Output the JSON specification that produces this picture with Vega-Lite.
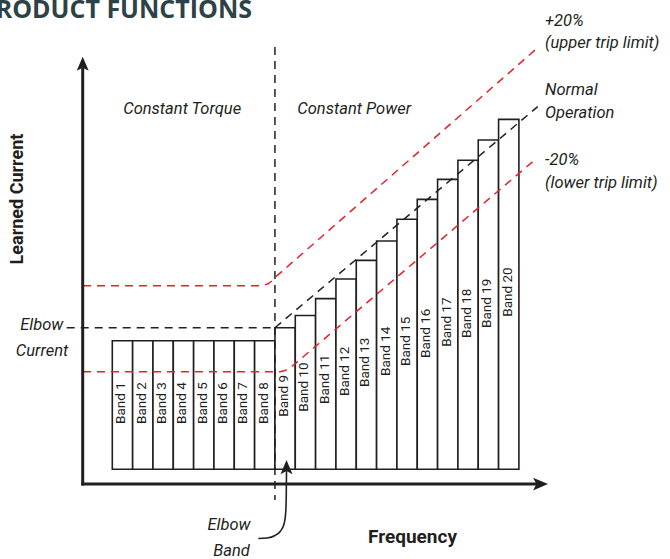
{
  "$schema": "https://vega.github.io/schema/vega-lite/v6.json",
  "width": 670,
  "height": 559,
  "padding": 0,
  "autosize": {"type": "none"},
  "background": "white",
  "config": {"view": {"stroke": null}},
  "datasets": {
    "bands": [
      {"band": "Band 1", "start": 0, "end": 1, "low": 9.4, "current": 91.7, "labelAt": 38.4},
      {"band": "Band 2", "start": 1, "end": 2, "low": 9.4, "current": 91.7, "labelAt": 38.4},
      {"band": "Band 3", "start": 2, "end": 3, "low": 9.4, "current": 91.7, "labelAt": 38.4},
      {"band": "Band 4", "start": 3, "end": 4, "low": 9.4, "current": 91.7, "labelAt": 38.4},
      {"band": "Band 5", "start": 4, "end": 5, "low": 9.4, "current": 91.7, "labelAt": 38.4},
      {"band": "Band 6", "start": 5, "end": 6, "low": 9.4, "current": 91.7, "labelAt": 38.4},
      {"band": "Band 7", "start": 6, "end": 7, "low": 9.4, "current": 91.7, "labelAt": 38.4},
      {"band": "Band 8", "start": 7, "end": 8, "low": 9.4, "current": 91.7, "labelAt": 38.4},
      {"band": "Band 9", "start": 8, "end": 9, "low": 9.4, "current": 100.0, "labelAt": 43.1},
      {"band": "Band 10", "start": 9, "end": 10, "low": 9.4, "current": 107.8, "labelAt": 46.3},
      {"band": "Band 11", "start": 10, "end": 11, "low": 9.4, "current": 118.6, "labelAt": 51.2},
      {"band": "Band 12", "start": 11, "end": 12, "low": 9.4, "current": 131.2, "labelAt": 56.3},
      {"band": "Band 13", "start": 12, "end": 13, "low": 9.4, "current": 143.1, "labelAt": 62.1},
      {"band": "Band 14", "start": 13, "end": 14, "low": 9.4, "current": 155.5, "labelAt": 69.1},
      {"band": "Band 15", "start": 14, "end": 15, "low": 9.4, "current": 169.4, "labelAt": 75.5},
      {"band": "Band 16", "start": 15, "end": 16, "low": 9.4, "current": 182.1, "labelAt": 80.6},
      {"band": "Band 17", "start": 16, "end": 17, "low": 9.4, "current": 194.9, "labelAt": 87.8},
      {"band": "Band 18", "start": 17, "end": 18, "low": 9.4, "current": 207.1, "labelAt": 93.4},
      {"band": "Band 19", "start": 18, "end": 19, "low": 9.4, "current": 220.1, "labelAt": 99.8},
      {"band": "Band 20", "start": 19, "end": 20, "low": 9.4, "current": 233.3, "labelAt": 107.0}
    ],
    "curves": [
      {"series": "upper", "i": 0, "f": -1.441, "c": 126.87},
      {"series": "upper", "i": 1, "f": 7.167, "c": 126.87},
      {"series": "upper", "i": 2, "f": 7.462, "c": 127.19},
      {"series": "upper", "i": 3, "f": 7.659, "c": 128.09},
      {"series": "upper", "i": 4, "f": 7.831, "c": 129.69},
      {"series": "upper", "i": 5, "f": 8.003, "c": 132.12},
      {"series": "upper", "i": 6, "f": 20.925, "c": 279.14},
      {"series": "lower", "i": 0, "f": -1.441, "c": 71.85},
      {"series": "lower", "i": 1, "f": 8.249, "c": 71.85},
      {"series": "lower", "i": 2, "f": 8.495, "c": 72.62},
      {"series": "lower", "i": 3, "f": 8.692, "c": 73.90},
      {"series": "lower", "i": 4, "f": 8.888, "c": 75.82},
      {"series": "lower", "i": 5, "f": 20.890, "c": 208.57},
      {"series": "normal", "i": 0, "f": 8.0, "c": 100.0},
      {"series": "normal", "i": 1, "f": 20.925, "c": 241.40},
      {"series": "elbowband", "i": 0, "f": 8.569, "c": 8.96},
      {"series": "elbowband", "i": 1, "f": 8.554, "c": -10.24},
      {"series": "elbowband", "i": 2, "f": 8.519, "c": -19.83},
      {"series": "elbowband", "i": 3, "f": 8.446, "c": -25.59},
      {"series": "elbowband", "i": 4, "f": 8.274, "c": -30.07},
      {"series": "elbowband", "i": 5, "f": 8.003, "c": -32.95},
      {"series": "elbowband", "i": 6, "f": 7.609, "c": -34.55},
      {"series": "elbowband", "i": 7, "f": 7.182, "c": -34.87}
    ]
  },
  "layer": [
    {
      "data": {"name": "bands"},
      "mark": {"type": "rect", "fill": "white", "stroke": "#231f20", "strokeWidth": 1.6},
      "encoding": {
        "x": {"field": "start", "type": "quantitative", "scale": {"domain": [-5.524, 27.432], "nice": false, "zero": false}, "axis": null},
        "x2": {"field": "end"},
        "y": {"field": "low", "type": "quantitative", "scale": {"domain": [-47.98, 309.66], "nice": false, "zero": false}, "axis": null},
        "y2": {"field": "current"}
      }
    },
    {
      "data": {"name": "bands"},
      "transform": [{"calculate": "(datum.start + datum.end) / 2", "as": "mid"}],
      "mark": {"type": "text", "angle": 270, "align": "left", "baseline": "middle", "font": "Roboto", "fontSize": 13.5, "color": "#231f20", "dy": -1},
      "encoding": {
        "x": {"field": "mid", "type": "quantitative", "scale": {"domain": [-5.524, 27.432], "nice": false, "zero": false}, "axis": null},
        "y": {"field": "labelAt", "type": "quantitative", "scale": {"domain": [-47.98, 309.66], "nice": false, "zero": false}, "axis": null},
        "text": {"field": "band"}
      }
    },
    {
      "data": {"name": "curves"},
      "transform": [{"filter": "datum.series === 'upper' || datum.series === 'lower'"}],
      "mark": {"type": "line", "color": "#e8202a", "strokeWidth": 1.5, "strokeDash": [8, 6]},
      "encoding": {
        "x": {"field": "f", "type": "quantitative", "scale": {"domain": [-5.524, 27.432], "nice": false, "zero": false}, "axis": null},
        "y": {"field": "c", "type": "quantitative", "scale": {"domain": [-47.98, 309.66], "nice": false, "zero": false}, "axis": null},
        "detail": {"field": "series"},
        "order": {"field": "i"}
      }
    },
    {
      "data": {"name": "curves"},
      "transform": [{"filter": "datum.series === 'normal'"}],
      "mark": {"type": "line", "color": "#231f20", "strokeWidth": 1.5, "strokeDash": [8, 6]},
      "encoding": {
        "x": {"field": "f", "type": "quantitative", "scale": {"domain": [-5.524, 27.432], "nice": false, "zero": false}, "axis": null},
        "y": {"field": "c", "type": "quantitative", "scale": {"domain": [-47.98, 309.66], "nice": false, "zero": false}, "axis": null},
        "order": {"field": "i"}
      }
    },
    {
      "data": {"name": "curves"},
      "transform": [{"filter": "datum.series === 'elbowband'"}],
      "mark": {"type": "line", "color": "#231f20", "strokeWidth": 1.6, "interpolate": "monotone"},
      "encoding": {
        "x": {"field": "f", "type": "quantitative", "scale": {"domain": [-5.524, 27.432], "nice": false, "zero": false}, "axis": null},
        "y": {"field": "c", "type": "quantitative", "scale": {"domain": [-47.98, 309.66], "nice": false, "zero": false}, "axis": null},
        "order": {"field": "i"}
      }
    },
    {
      "data": {"values": [
        {"f": 8.0, "f2": 8.0, "c": 279.59, "c2": -10.24},
        {"f": -2.243, "f2": 8.0, "c": 100.0, "c2": 100.0}
      ]},
      "mark": {"type": "rule", "color": "#231f20", "strokeWidth": 1.5, "strokeDash": [8, 6]},
      "encoding": {
        "x": {"field": "f", "type": "quantitative", "scale": {"domain": [-5.524, 27.432], "nice": false, "zero": false}, "axis": null},
        "x2": {"field": "f2"},
        "y": {"field": "c", "type": "quantitative", "scale": {"domain": [-47.98, 309.66], "nice": false, "zero": false}, "axis": null},
        "y2": {"field": "c2"}
      }
    },
    {
      "data": {"values": [
        {"f": -1.456, "f2": -1.456, "c": -0.9, "c2": 266.2},
        {"f": -1.53, "f2": 20.96, "c": 0.0, "c2": 0.0}
      ]},
      "mark": {"type": "rule", "color": "#231f20", "strokeWidth": 3},
      "encoding": {
        "x": {"field": "f", "type": "quantitative", "scale": {"domain": [-5.524, 27.432], "nice": false, "zero": false}, "axis": null},
        "x2": {"field": "f2"},
        "y": {"field": "c", "type": "quantitative", "scale": {"domain": [-47.98, 309.66], "nice": false, "zero": false}, "axis": null},
        "y2": {"field": "c2"}
      }
    },
    {
      "data": {"values": [
        {"f": -1.456, "c": 273.38},
        {"f": 8.569, "c": 15.36}
      ]},
      "mark": {"type": "point", "shape": "M0,0L-0.85,2L0,1.55L0.85,2Z", "filled": true, "color": "#231f20", "opacity": 1, "size": 200, "strokeWidth": 0},
      "encoding": {
        "x": {"field": "f", "type": "quantitative", "scale": {"domain": [-5.524, 27.432], "nice": false, "zero": false}, "axis": null},
        "y": {"field": "c", "type": "quantitative", "scale": {"domain": [-47.98, 309.66], "nice": false, "zero": false}, "axis": null}
      }
    },
    {
      "data": {"values": [
        {"f": 21.432, "c": 0.0}
      ]},
      "mark": {"type": "point", "shape": "M0,0L-2,-0.85L-1.55,0L-2,0.85Z", "filled": true, "color": "#231f20", "opacity": 1, "size": 225, "strokeWidth": 0},
      "encoding": {
        "x": {"field": "f", "type": "quantitative", "scale": {"domain": [-5.524, 27.432], "nice": false, "zero": false}, "axis": null},
        "y": {"field": "c", "type": "quantitative", "scale": {"domain": [-47.98, 309.66], "nice": false, "zero": false}, "axis": null}
      }
    },
    {
      "data": {"values": [
        {"t": "Constant Torque", "f": 3.438, "c": 236.53},
        {"t": "Constant Power", "f": 11.899, "c": 236.53},
        {"t": "Elbow", "f": 5.74, "c": -29.43},
        {"t": "Band", "f": 5.863, "c": -45.8}
      ]},
      "mark": {"type": "text", "baseline": "alphabetic", "align": "center", "font": "Roboto", "fontStyle": "italic", "fontSize": 16.5, "color": "#231f20"},
      "encoding": {
        "x": {"field": "f", "type": "quantitative", "scale": {"domain": [-5.524, 27.432], "nice": false, "zero": false}, "axis": null},
        "y": {"field": "c", "type": "quantitative", "scale": {"domain": [-47.98, 309.66], "nice": false, "zero": false}, "axis": null},
        "text": {"field": "t"}
      }
    },
    {
      "data": {"values": [
        {"t": "+20%", "f": 21.284, "c": 293.03},
        {"t": "(upper trip limit)", "f": 21.284, "c": 278.76},
        {"t": "Normal", "f": 21.284, "c": 248.88},
        {"t": "Operation", "f": 21.284, "c": 233.97},
        {"t": "-20%", "f": 21.284, "c": 204.09},
        {"t": "(lower trip limit)", "f": 21.284, "c": 189.19}
      ]},
      "mark": {"type": "text", "baseline": "alphabetic", "align": "left", "font": "Roboto", "fontStyle": "italic", "fontSize": 16.5, "color": "#231f20"},
      "encoding": {
        "x": {"field": "f", "type": "quantitative", "scale": {"domain": [-5.524, 27.432], "nice": false, "zero": false}, "axis": null},
        "y": {"field": "c", "type": "quantitative", "scale": {"domain": [-47.98, 309.66], "nice": false, "zero": false}, "axis": null},
        "text": {"field": "t"}
      }
    },
    {
      "data": {"values": [
        {"t": "Elbow", "f": -2.41, "c": 98.53},
        {"t": "Current", "f": -2.164, "c": 82.21}
      ]},
      "mark": {"type": "text", "baseline": "alphabetic", "align": "right", "font": "Roboto", "fontStyle": "italic", "fontSize": 16.5, "color": "#231f20"},
      "encoding": {
        "x": {"field": "f", "type": "quantitative", "scale": {"domain": [-5.524, 27.432], "nice": false, "zero": false}, "axis": null},
        "y": {"field": "c", "type": "quantitative", "scale": {"domain": [-47.98, 309.66], "nice": false, "zero": false}, "axis": null},
        "text": {"field": "t"}
      }
    },
    {
      "data": {"values": [
        {"t": "Frequency", "f": 14.766, "c": -37.43}
      ]},
      "mark": {"type": "text", "baseline": "alphabetic", "align": "center", "font": "Roboto", "fontWeight": "bold", "fontSize": 19, "color": "#231f20"},
      "encoding": {
        "x": {"field": "f", "type": "quantitative", "scale": {"domain": [-5.524, 27.432], "nice": false, "zero": false}, "axis": null},
        "y": {"field": "c", "type": "quantitative", "scale": {"domain": [-47.98, 309.66], "nice": false, "zero": false}, "axis": null},
        "text": {"field": "t"}
      }
    },
    {
      "data": {"values": [
        {"t": "Learned Current", "f": -4.378, "c": 182.34}
      ]},
      "mark": {"type": "text", "baseline": "alphabetic", "align": "center", "angle": 270, "font": "Roboto", "fontWeight": "bold", "fontSize": 18, "color": "#231f20"},
      "encoding": {
        "x": {"field": "f", "type": "quantitative", "scale": {"domain": [-5.524, 27.432], "nice": false, "zero": false}, "axis": null},
        "y": {"field": "c", "type": "quantitative", "scale": {"domain": [-47.98, 309.66], "nice": false, "zero": false}, "axis": null},
        "text": {"field": "t"}
      }
    },
    {
      "data": {"values": [
        {"t": "PRODUCT FUNCTIONS", "f": 6.872, "c": 298.14}
      ]},
      "mark": {"type": "text", "baseline": "alphabetic", "align": "right", "font": "Open Sans", "fontWeight": "bold", "fontSize": 25, "color": "#2c4247"},
      "encoding": {
        "x": {"field": "f", "type": "quantitative", "scale": {"domain": [-5.524, 27.432], "nice": false, "zero": false}, "axis": null},
        "y": {"field": "c", "type": "quantitative", "scale": {"domain": [-47.98, 309.66], "nice": false, "zero": false}, "axis": null},
        "text": {"field": "t"}
      }
    }
  ]
}
